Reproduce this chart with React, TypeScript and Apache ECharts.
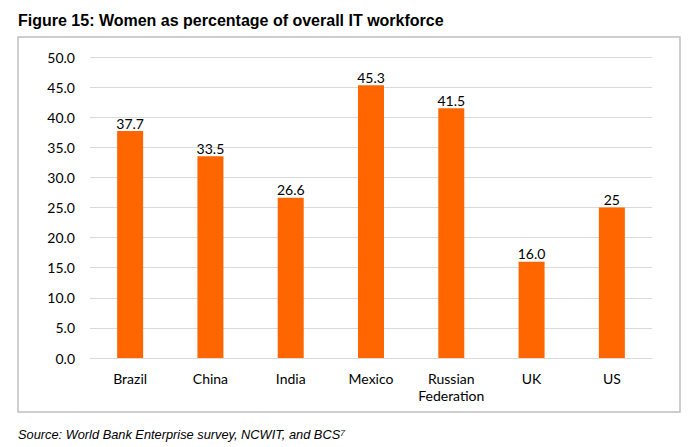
import React, { useEffect, useRef } from "react";
import * as echarts from "echarts";

const categories = ["Brazil", "China", "India", "Mexico", "Russian\nFederation", "UK", "US"];
const values = [37.7, 33.5, 26.6, 45.3, 41.5, 16.0, 25];
const valueLabels = ["37.7", "33.5", "26.6", "45.3", "41.5", "16.0", "25"];
const titleText = "Figure 15: Women as percentage of overall IT workforce";
const sourceText = "Source: World Bank Enterprise survey, NCWIT, and BCS⁷";

export default function App() {
  const ref = useRef<HTMLDivElement>(null);
  useEffect(() => {
    if (!ref.current) return;
    const chart = echarts.init(ref.current, null, { renderer: "svg" });
    const labelFont = "Lato, 'Open Sans', sans-serif";
    chart.setOption({
      animation: false,
      backgroundColor: "#ffffff",
      grid: { left: 90, right: 46, top: 57, bottom: 89 },
      xAxis: {
        type: "category",
        data: categories,
        axisLine: { show: true, lineStyle: { color: "#d9d9d9", width: 1 } },
        axisTick: { show: false },
        axisLabel: {
          color: "#000",
          fontFamily: labelFont,
          fontSize: 14,
          margin: 12,
          lineHeight: 17,
          interval: 0,
        },
      },
      yAxis: {
        type: "value",
        min: 0,
        max: 50,
        interval: 5,
        axisLine: { show: false },
        axisTick: { show: false },
        splitLine: { lineStyle: { color: "#d9d9d9", width: 1 } },
        axisLabel: {
          color: "#000",
          fontFamily: labelFont,
          fontSize: 14,
          margin: 15,
          formatter: (v: number) => v.toFixed(1),
        },
      },
      series: [
        {
          type: "bar",
          data: values,
          barWidth: 26,
          itemStyle: { color: "#ff6600" },
          label: {
            show: true,
            position: "top",
            distance: 1,
            color: "#000",
            fontFamily: labelFont,
            fontSize: 14,
            formatter: (p: any) => valueLabels[p.dataIndex],
          },
        },
      ],
      graphic: [
        {
          type: "rect",
          shape: { x: 18, y: 37, width: 662, height: 375 },
          style: { fill: "none", stroke: "#bfbfbf", lineWidth: 1.5 },
          silent: true,
        },
        {
          type: "text",
          x: 18,
          y: 12,
          style: {
            text: titleText,
            fill: "#000",
            font: "bold 16px 'Liberation Sans', Arial, sans-serif",
          },
        },
        {
          type: "text",
          x: 18,
          y: 428,
          style: {
            text: sourceText,
            fill: "#000",
            font: "italic 12.8px 'Liberation Sans', Arial, sans-serif",
          },
        },
      ],
    });
    return () => chart.dispose();
  }, []);
  return (
    <div
      ref={ref}
      style={{ position: "absolute", left: 0, top: 0, width: 698, height: 447 }}
    />
  );
}
